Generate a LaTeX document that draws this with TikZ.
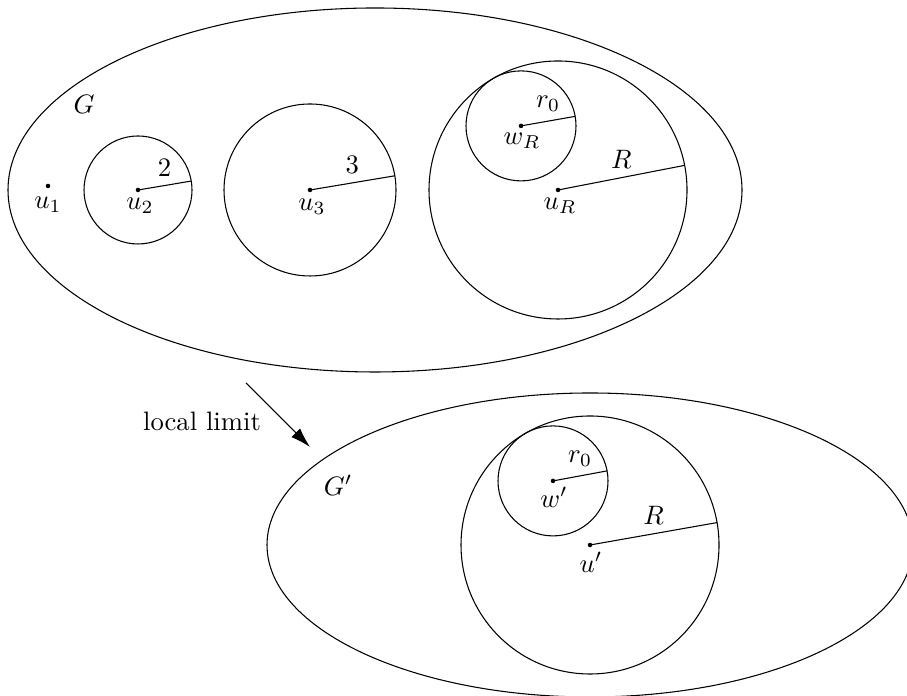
\documentclass[tikz,border=0pt]{standalone}
\usepackage{tikz}
\usetikzlibrary{arrows.meta,calc}
\tikzset{
  dot/.style={circle,fill=black,inner sep=0pt,minimum size=1.7pt},
  lbl/.style={inner sep=0pt},
  rad-lbl/.style={midway,above},
  arrow/.style={-{Latex[length=7.5pt,width=4.6pt]}},
}
\begin{document}
\begin{tikzpicture}[x=0.375pt,y=0.375pt]
  \useasboundingbox (0,0) rectangle (907,696);
  \clip (0,0) rectangle (907,696);
  % graph G
  \draw (375,506) ellipse [x radius=367,y radius=182];
  \node[lbl] (g) at (84,592) {$G$};
  \node[dot] (u1) at (48,510) {};
  \node[lbl] (u1-lbl) at (48,491) {$u_1$};
  \node[dot] (u2) at (138,506) {};
  \node[lbl] (u2-lbl) at (140,490) {$u_2$};
  \node[dot] (u3) at (310,506) {};
  \node[lbl] (u3-lbl) at (312,489) {$u_3$};
  \node[dot] (uR) at (558,506) {};
  \node[lbl] (uR-lbl) at (560,490) {$u_R$};
  \node[dot] (wR) at ($(uR)+(120:74)$) {};
  \node[lbl] (wR-lbl) at (522,555) {$w_R$};
  \draw (u2.center) circle [radius=54];
  \draw (u3.center) circle [radius=86];
  \draw (uR.center) circle [radius=129];
  \draw (wR.center) circle [radius=55];
  \draw (u2.center) -- ++(9.5:54) node[rad-lbl] {$2$};
  \draw (u3.center) -- ++(9.5:86) node[rad-lbl] {$3$};
  \draw (uR.center) -- ++(11:129) node[rad-lbl] {$R$};
  \draw (wR.center) -- ++(10:55) node[rad-lbl] {$r_0$};
  % local limit
  \coordinate (lim-a) at (246,313);
  \coordinate (lim-b) at (310,249);
  \draw[arrow] (lim-a) -- (lim-b);
  \node (lim) at (202,275) {local limit};
  % graph G'
  \draw (590,151) ellipse [x radius=323,y radius=152];
  \node[lbl] (g2) at (338,211) {$G'$};
  \node[dot] (u') at (590,151) {};
  \node[lbl] (u'-lbl) at (591,134) {$u'$};
  \node[dot] (w') at ($(u')+(120:74)$) {};
  \node[lbl] (w'-lbl) at (554,199) {$w'$};
  \draw (u'.center) circle [radius=129];
  \draw (w'.center) circle [radius=55];
  \draw (u'.center) -- ++(10:129) node[rad-lbl] {$R$};
  \draw (w'.center) -- ++(10.5:55) node[rad-lbl] {$r_0$};
\end{tikzpicture}
\end{document}
